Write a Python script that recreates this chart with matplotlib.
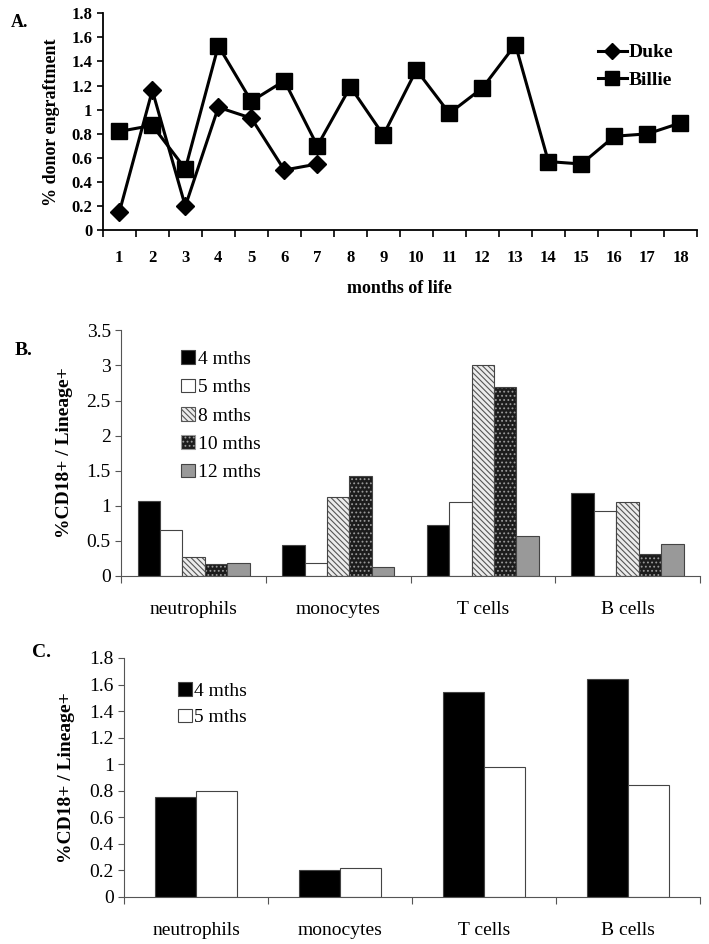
import numpy as np
import matplotlib.pyplot as plt
import matplotlib.patches as mpatches

plt.rcParams['font.family'] = ['Liberation Serif', 'DejaVu Serif']
plt.rcParams['hatch.linewidth'] = 0.8

# panel A data
months = np.arange(1, 19)
duke = [0.15, 1.16, 0.20, 1.02, 0.93, 0.50, 0.55]
billie = [0.82, 0.87, 0.51, 1.53, 1.07, 1.24, 0.70, 1.19, 0.79, 1.33,
          0.97, 1.18, 1.54, 0.57, 0.55, 0.78, 0.80, 0.89]

# panel B data
cells = ['neutrophils', 'monocytes', 'T cells', 'B cells']
b_labels = ['4 mths', '5 mths', '8 mths', '10 mths', '12 mths']
b_4 = [1.07, 0.44, 0.72, 1.18]
b_5 = [0.65, 0.18, 1.06, 0.92]
b_8 = [0.27, 1.13, 3.01, 1.05]
b_10 = [0.17, 1.42, 2.70, 0.31]
b_12 = [0.19, 0.12, 0.57, 0.45]

# panel C data
c_labels = ['4 mths', '5 mths']
c_4 = [0.75, 0.20, 1.54, 1.64]
c_5 = [0.80, 0.22, 0.98, 0.84]

fig = plt.figure(figsize=(7.09, 9.44), dpi=100)

#panel A line plot
axA = fig.add_axes([0.145, 0.756, 0.838, 0.230])
axA.plot(months[:len(duke)], duke, color='black', lw=2.2, marker='D', ms=9,
         label='Duke')
axA.plot(months, billie, color='black', lw=2.2, marker='s', ms=11.5,
         label='Billie')
axA.set_xlim(0.5, 18.5)
axA.set_ylim(0, 1.8)
axA.set_yticks(np.arange(0, 1.81, 0.2))
axA.set_yticklabels(['0', '0.2', '0.4', '0.6', '0.8', '1', '1.2', '1.4', '1.6', '1.8'])
axA.set_xticks(np.arange(0.5, 18.6, 1))
axA.set_xticklabels([])
axA.set_xticks(months, minor=True)
axA.set_xticklabels([str(m) for m in months], minor=True)
axA.tick_params(axis='x', which='minor', length=0, pad=14)
axA.tick_params(axis='x', which='major', length=5, width=1.2, direction='out')
axA.tick_params(axis='y', length=4, width=1.2)
for lab in axA.get_xticklabels(minor=True) + axA.get_yticklabels():
    lab.set_fontweight('bold')
    lab.set_fontsize(12)
for s in ['top', 'right']:
    axA.spines[s].set_visible(False)
for s in ['left', 'bottom']:
    axA.spines[s].set_linewidth(1.3)
axA.set_ylabel('% donor engraftment', fontsize=13, fontweight='bold', labelpad=8)
axA.set_xlabel('months of life', fontsize=13, fontweight='bold', labelpad=10)
axA.legend(loc='upper right', bbox_to_anchor=(0.99, 0.94), frameon=False,
           prop={'weight': 'bold', 'size': 14}, handlelength=1.5,
           handletextpad=0.1, labelspacing=0.5, markerscale=0.85)
fig.text(0.015, 0.985, 'A.', fontsize=13, fontweight='bold', va='top')

#panel B grouped bars
axB = fig.add_axes([0.171, 0.390, 0.816, 0.260])
x = np.arange(len(cells))
w = 0.155
offs = (np.arange(5) - 2) * w
b_data = [b_4, b_5, b_8, b_10, b_12]
faces = ['black', 'white', '#ececec', '#1c1c1c', '#999999']
hatches = [None, None, '\\\\\\\\\\\\', '....', None]
hcolors = [None, None, '#555555', '#9a9a9a', None]
handles = []
for i in range(5):
    if hatches[i] is None:
        axB.bar(x + offs[i], b_data[i], w, color=faces[i], edgecolor='#444444', lw=0.8)
    else:
        axB.bar(x + offs[i], b_data[i], w, color=faces[i], edgecolor=hcolors[i],
                hatch=hatches[i], lw=0)
        axB.bar(x + offs[i], b_data[i], w, fill=False, edgecolor='#444444', lw=0.8)
    handles.append(mpatches.Patch(facecolor=faces[i], edgecolor=hcolors[i] or '#444444',
                                  hatch=hatches[i], lw=0.8))
axB.set_xlim(-0.5, 3.5)
axB.set_ylim(0, 3.5)
axB.set_yticks(np.arange(0, 3.51, 0.5))
axB.set_yticklabels(['0', '0.5', '1', '1.5', '2', '2.5', '3', '3.5'], fontsize=14)
axB.set_xticks(np.arange(-0.5, 3.6, 1))
axB.set_xticklabels([])
axB.set_xticks(x, minor=True)
axB.set_xticklabels(cells, minor=True, fontsize=14)
axB.tick_params(axis='x', which='minor', length=0, pad=18)
axB.tick_params(axis='x', which='major', length=5, color='#555555')
axB.tick_params(axis='y', length=4, color='#555555')
for s in ['top', 'right']:
    axB.spines[s].set_visible(False)
for s in ['left', 'bottom']:
    axB.spines[s].set_color('#555555')
axB.set_ylabel('%CD18+ / Lineage+', fontsize=14, fontweight='bold', labelpad=10)
axB.legend(handles, b_labels, loc='upper left', bbox_to_anchor=(0.09, 0.95),
           frameon=False, fontsize=14, handlelength=0.7, handleheight=0.7,
           handletextpad=0.15, labelspacing=0.55, borderaxespad=0)
fig.text(0.02, 0.638, 'B.', fontsize=14, fontweight='bold', va='top')

#panel C grouped bars
axC = fig.add_axes([0.175, 0.050, 0.812, 0.253])
wc = 0.285
axC.bar(x - wc / 2, c_4, wc, color='black', edgecolor='#444444', lw=0.8, label=c_labels[0])
axC.bar(x + wc / 2, c_5, wc, color='white', edgecolor='#444444', lw=0.8, label=c_labels[1])
axC.set_xlim(-0.5, 3.5)
axC.set_ylim(0, 1.8)
axC.set_yticks(np.arange(0, 1.81, 0.2))
axC.set_yticklabels(['0', '0.2', '0.4', '0.6', '0.8', '1', '1.2', '1.4', '1.6', '1.8'],
                    fontsize=14)
axC.set_xticks(np.arange(-0.5, 3.6, 1))
axC.set_xticklabels([])
axC.set_xticks(x, minor=True)
axC.set_xticklabels(cells, minor=True, fontsize=14)
axC.tick_params(axis='x', which='minor', length=0, pad=18)
axC.tick_params(axis='x', which='major', length=5, color='#555555')
axC.tick_params(axis='y', length=4, color='#555555')
for s in ['top', 'right']:
    axC.spines[s].set_visible(False)
for s in ['left', 'bottom']:
    axC.spines[s].set_color('#555555')
axC.set_ylabel('%CD18+ / Lineage+', fontsize=14, fontweight='bold', labelpad=10)
axC.legend(loc='upper left', bbox_to_anchor=(0.08, 0.93), frameon=False, fontsize=14,
           handlelength=0.7, handleheight=0.7, handletextpad=0.15,
           labelspacing=0.45, borderaxespad=0)
fig.text(0.045, 0.318, 'C.', fontsize=14, fontweight='bold', va='top')

plt.savefig('out.png', dpi=100)
